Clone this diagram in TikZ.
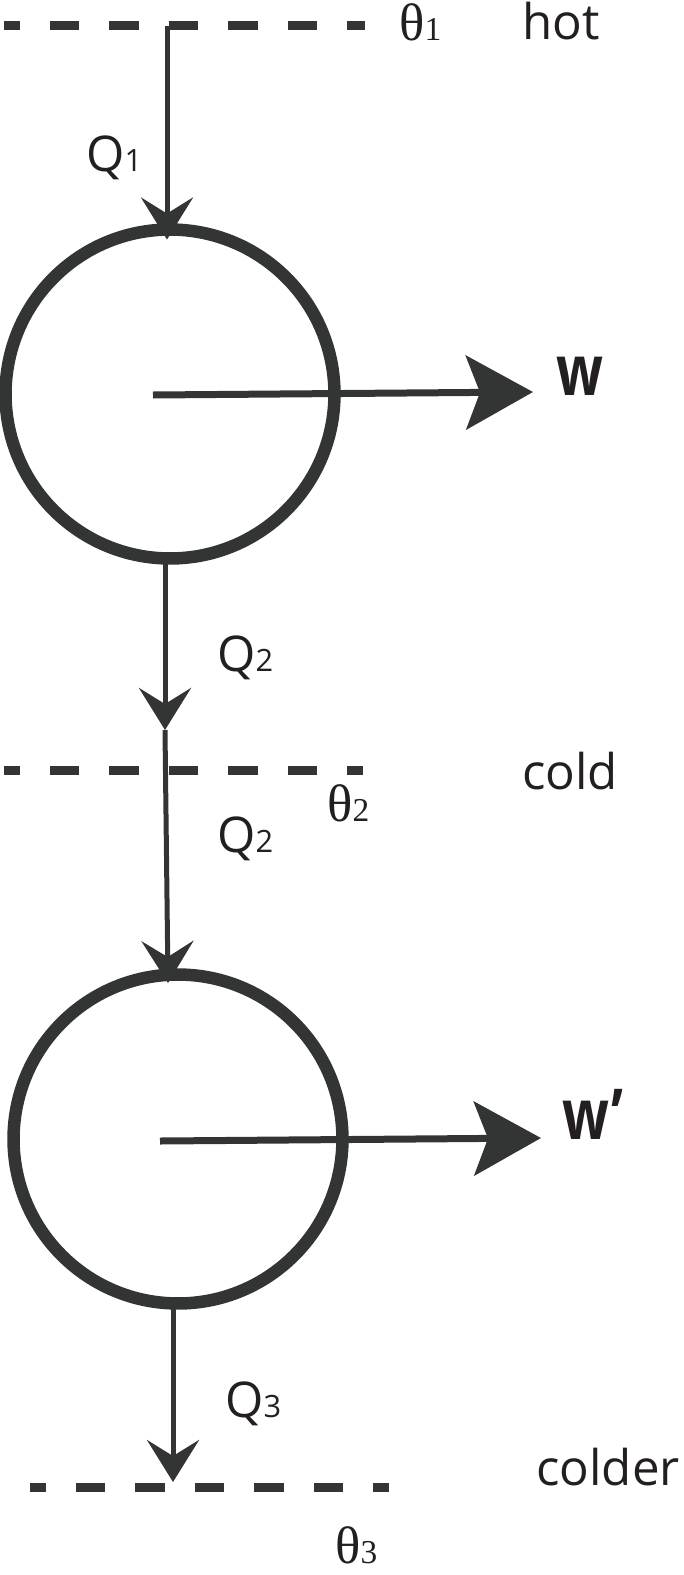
\documentclass[tikz,border=0pt]{standalone}
\usepackage{fontspec}
\setmainfont{Open Sans}
\newfontfamily\greekfont{Liberation Serif}
\usepackage{graphicx}
\usepackage{tikz}
\usetikzlibrary{arrows.meta}
\usetikzlibrary{calc}
\definecolor{linec}{HTML}{333535}
\definecolor{inkc}{HTML}{231F20}
\newcommand{\idx}[1]{{\fontsize{17.5}{18}\selectfont #1}}
\newcommand{\tidx}[1]{{\fontsize{19}{19}\selectfont #1}}
\tikzset{
  reservoir/.style={linec, line width=0.18cm, dash pattern=on 0.59cm off 0.6cm, dash phase=0.27cm},
  engine/.style={circle, draw=linec, line width=0.25cm, minimum size=6.58cm, inner sep=0, outer sep=0},
  heat/.style={linec, line width=0.1cm, -{Stealth[length=0.84cm, width=1.04cm, inset=0.32cm]}},
  work/.style={linec, line width=0.14cm, -{Stealth[length=1.34cm, width=1.48cm, inset=0.28cm]}},
  lbl/.style={text=inkc, inner sep=0, anchor=base west, font=\fontsize{28}{30}\selectfont},
  temp/.style={lbl, font=\greekfont\fontsize{30}{32}\selectfont},
  worklbl/.style={lbl, font=\bfseries\fontsize{40}{42}\selectfont}
}

\begin{document}
\begin{tikzpicture}[x=0.02cm, y=-0.02cm]
\useasboundingbox (0,0) rectangle (683,1575);
% reservoirs
\draw[reservoir] (4,26) -- (365,26);
\draw[reservoir] (4,770) -- (363,770);
\draw[reservoir] (30,1487) -- (389,1487);
% engines
\node[engine] (e1) at (170,394) {};
\node[engine] (e2) at (178,1139) {};
% heat flow
\coordinate (q1top) at (167,26);
\coordinate (q2mid) at (165,730);
\coordinate (q2in) at (168,983);
\coordinate (q3bot) at (173,1482);
\draw[heat] (q1top) -- ($(q1top |- e1.north)+(0,10)$);
\draw[heat] (q2mid |- e1.south) -- (q2mid);
\draw[heat] (q2mid) -- (q2in);
\draw[heat] (q3bot |- e2.south) -- (q3bot);
% work
\coordinate (w1) at (533,392);
\coordinate (w2) at (541,1138);
\draw[work] ($(e1.center)+(-17,1)$) -- (w1);
\draw[work] ($(e2.center)+(-18,2)$) -- (w2);
% labels
\node[temp] (th1) at (399,41) {θ\tidx{1}};
\node[lbl] (hot) at (522,40) {hot};
\node[lbl] (lq1) at (86,172) {Q\idx{1}};
\node[worklbl] (lw1) at (556,395) {\scalebox{0.78}[1]{w}};
\node[lbl] (lq2a) at (217,671) {Q\idx{2}};
\node[lbl] (cold) at (522,789) {cold};
\node[temp] (th2) at (327,821) {θ\tidx{2}};
\node[lbl] (lq2b) at (217,852) {Q\idx{2}};
\node[worklbl] (lw2) at (562,1139) {\scalebox{0.78}[1]{w’}};
\node[lbl] (lq3) at (225,1417) {Q\idx{3}};
\node[lbl] (colder) at (536,1485) {colder};
\node[temp] (th3) at (335,1563) {θ\tidx{3}};
\end{tikzpicture}
\end{document}
